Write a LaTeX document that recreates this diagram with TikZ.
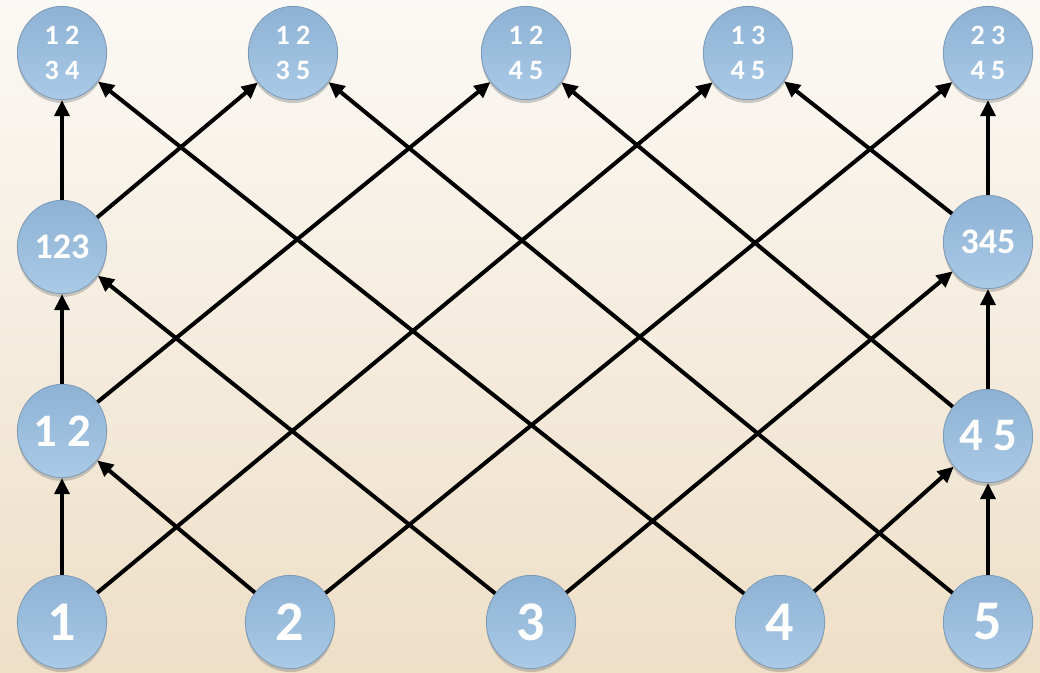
\documentclass[tikz,border=0pt]{standalone}
\usepackage{fontspec}
\setsansfont{Carlito}
\usepackage{tikz}
\usetikzlibrary{arrows.meta,shapes.geometric,shadows}
\definecolor{bgtop}{HTML}{FBF9F5}
\definecolor{bgbot}{HTML}{EEDFC7}
\definecolor{balltop}{HTML}{8EB2D4}
\definecolor{ballbot}{HTML}{AACAE6}
\definecolor{ballrim}{HTML}{7D9AB6}

\begin{document}
\begin{tikzpicture}[x=0.75pt, y=-0.75pt, font=\sffamily\bfseries,
  ball/.style={ellipse, draw=ballrim, line width=0.6pt, top color=balltop, bottom color=ballbot, text=white, minimum width=67pt, minimum height=70pt, inner sep=0pt, align=center, drop shadow={shadow xshift=0pt, shadow yshift=-2.5pt, opacity=0.4}},
  big/.style={font=\sffamily\bfseries\fontsize{42}{42}\selectfont},
  mid/.style={font=\sffamily\bfseries\fontsize{35}{35}\selectfont},
  trio/.style={font=\sffamily\bfseries\fontsize{27}{27}\selectfont},
  quad/.style={font=\sffamily\bfseries\fontsize{21}{26}\selectfont},
  arr/.style={-{Triangle[length=12pt, width=11pt]}, line width=3pt, draw=black}]
\shade[top color=bgtop, bottom color=bgbot] (0,0) rectangle (1040,672);
% top row
\node[ball, quad] (t1234) at (62,53) {1 2\\3 4};
\node[ball, quad] (t1235) at (293,53) {1 2\\3 5};
\node[ball, quad] (t1245) at (526,53) {1 2\\4 5};
\node[ball, quad] (t1345) at (748,53) {1 3\\4 5};
\node[ball, quad] (t2345) at (988,53) {2 3\\4 5};
% middle
\node[ball, trio] (m123) at (62,247) {123};
\node[ball, mid] (m12) at (62,431) {1 2};
\node[ball, trio] (m345) at (988,242) {345};
\node[ball, mid] (m45) at (988,436) {4 5};
% bottom row
\node[ball, big] (b1) at (62,622) {1};
\node[ball, big] (b2) at (290,622) {2};
\node[ball, big] (b3) at (531,622) {3};
\node[ball, big] (b4) at (780,622) {4};
\node[ball, big] (b5) at (988,622) {5};
% edges
\draw[arr] (b1) -- (m12); \draw[arr] (m12) -- (m123); \draw[arr] (m123) -- (t1234);
\draw[arr] (b2) -- (m12); \draw[arr] (b3) -- (m123); \draw[arr] (b4) -- (t1234);
\draw[arr] (b5) -- (t1235); \draw[arr] (m123) -- (t1235); \draw[arr] (m12) -- (t1245);
\draw[arr] (b1) -- (t1345); \draw[arr] (b2) -- (t2345); \draw[arr] (b3) -- (m345);
\draw[arr] (b4) -- (m45); \draw[arr] (b5) -- (m45); \draw[arr] (m45) -- (m345);
\draw[arr] (m345) -- (t2345); \draw[arr] (m45) -- (t1245); \draw[arr] (m345) -- (t1345);
\end{tikzpicture}
\end{document}
